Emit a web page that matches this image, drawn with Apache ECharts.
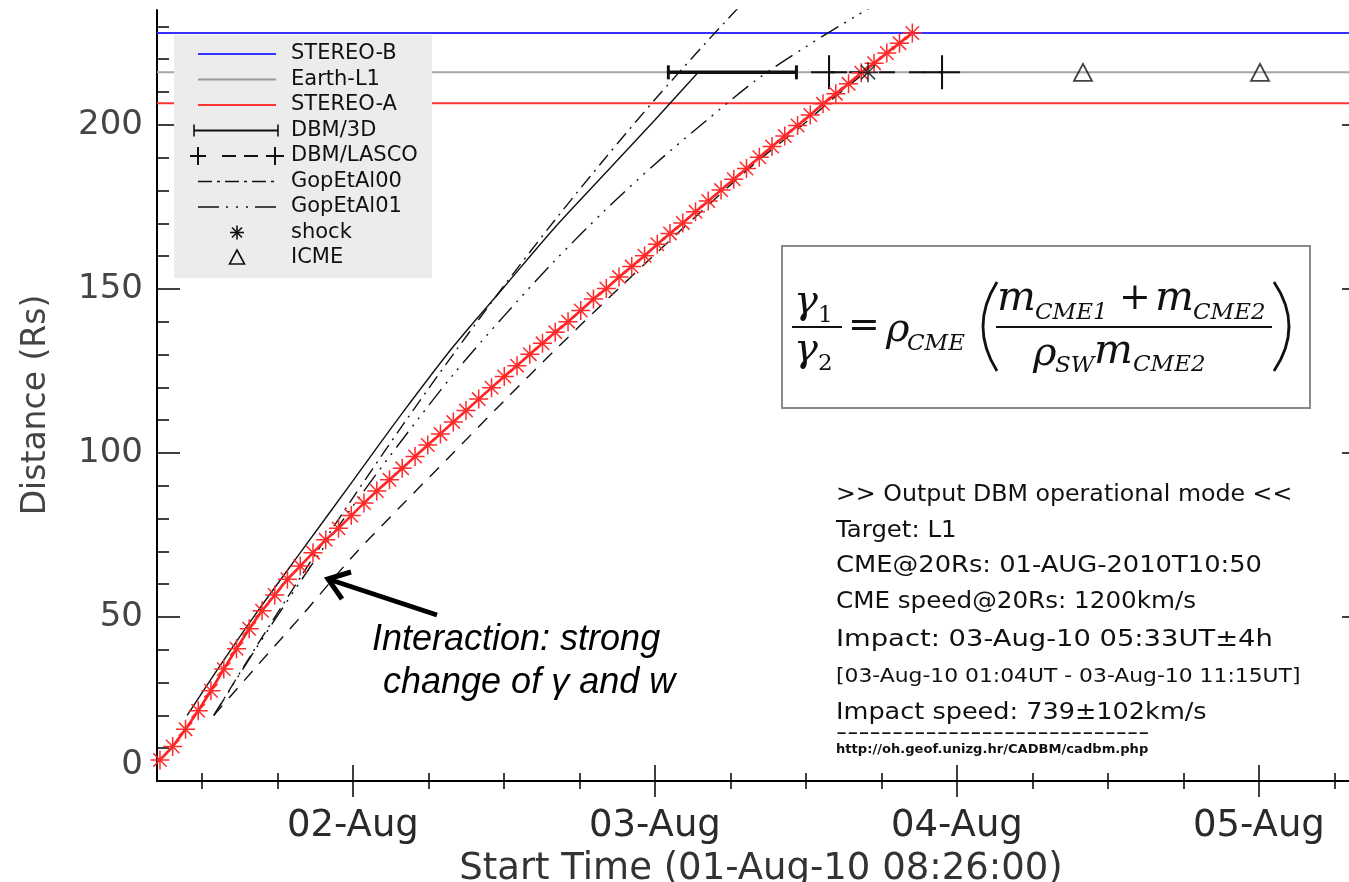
<!DOCTYPE html>
<html>
<head>
<meta charset="utf-8">
<script src="https://cdn.jsdelivr.net/npm/echarts@6/dist/echarts.min.js"></script>
<style>
  html, body { margin: 0; padding: 0; background: #ffffff; }
  #chart { width: 1349px; height: 882px; }
</style>
</head>
<body>
<div id="chart"></div>
<script>
// Time is measured in hours since 2010-08-01 00:00 UT
const START_HOUR = 8 + 26 / 60;          // 01-Aug-10 08:26:00
const END_HOUR = START_HOUR + 96;
const dayTicks = [24, 48, 72, 96];
const dayLabels = ['02-Aug', '03-Aug', '04-Aug', '05-Aug'];
const sixHourTicks = [12, 18, 30, 36, 42, 54, 60, 66, 78, 84, 90, 102];
const distTicks = [0, 50, 100, 150, 200];
const distMinorTicks = [10, 20, 30, 40, 60, 70, 80, 90, 110, 120, 130, 140, 160, 170, 180, 190, 210, 220, 230];
const DIST_MAX = 235;

// Heliocentric distances of the targets (Rs)
const stereoB = 228;
const earthL1 = 216;
const stereoA = 206.6;

// DBM with 3D reconstruction input
const dbm3dTime = [10.83, 13.5, 16.2, 20, 24, 28, 32, 36, 40, 44, 48, 51.45];
const dbm3dDist = [20, 35.5, 50.5, 70.5, 91.5, 112.5, 132.5, 150.5, 168.5, 185, 201.5, 216];

// DBM with LASCO input
const lascoTime = [12.95, 16, 20, 24, 28, 32, 36, 40, 44, 48, 52, 56, 60, 62, 64.7];
const lascoDist = [20, 33.4, 50.7, 68.5, 84.5, 100.1, 115.8, 131.1, 146, 160.5, 174.7, 188.4, 200.8, 207.5, 216];

// Empirical models
const gop00Time = [12.95, 16, 20, 24, 28, 32, 36, 40, 44, 48, 52, 55];
const gop00Dist = [20, 39, 63.1, 86.3, 108.7, 130.2, 150.9, 170.7, 189.6, 207.7, 224.8, 237.2];
const gop01Time = [12.95, 16, 20, 24, 28, 32, 36, 40, 44, 48, 52, 56, 60, 64, 65.5];
const gop01Dist = [20, 38.6, 61.8, 83.8, 104.4, 124, 141.7, 158.4, 173.8, 188, 201, 213.5, 223.8, 233.2, 236.5];

// DBM run with CME-CME interaction (hourly output)
const interTime = [8.67, 9.68, 10.70, 11.71, 12.72, 13.74, 14.75, 15.76, 16.78, 17.79,
  18.80, 19.82, 20.83, 21.84, 22.86, 23.87, 24.88, 25.90, 26.91, 27.92,
  28.94, 29.95, 30.96, 31.98, 32.99, 34.00, 35.02, 36.03, 37.04, 38.06,
  39.07, 40.08, 41.10, 42.11, 43.12, 44.14, 45.15, 46.16, 47.18, 48.19,
  49.20, 50.22, 51.23, 52.24, 53.26, 54.27, 55.28, 56.30, 57.31, 58.32,
  59.34, 60.35, 61.36, 62.38, 63.39, 64.40, 65.42, 66.43, 67.44, 68.46];
const interDist = [6.4, 10.5, 15.8, 21.4, 27.5, 34.1, 40.3, 46.4, 51.9, 56.7,
  61.5, 65.5, 69.6, 73.5, 77.0, 80.9, 84.7, 88.4, 91.8, 95.3,
  98.9, 102.4, 105.8, 109.4, 112.9, 116.4, 119.9, 123.3, 126.6, 130.1,
  133.4, 136.8, 140.0, 143.4, 146.9, 150.1, 153.6, 156.8, 160.1, 163.6,
  166.9, 170.1, 173.5, 176.8, 180.1, 183.4, 186.7, 190.1, 193.4, 196.6,
  199.8, 203.0, 206.4, 209.5, 212.5, 215.9, 218.8, 221.9, 224.9, 228.0];

// Arrival times at L1
const dbm3dArrival = [49.07, 59.25];     // 03-Aug 01:04 UT - 11:15 UT
const lascoArrival = [61.84, 70.82];
const shockTime = [64.94];
const icmeTime = [82.02, 96.09];

const pairs = (ts, ds) => ts.map((t, i) => [t, ds[i]]);
const flat = (ts, d) => ts.map(t => [t, d]);

const ASTERISK = 'path://M0,-10L0,10M-10,0L10,0M-7.07,-7.07L7.07,7.07M-7.07,7.07L7.07,-7.07';
const PLUS = 'path://M-10,0L10,0M0,-10L0,10';
const TRIANGLE = 'path://M0,-10L8.66,5L-8.66,5Z';

const SANS = "'DejaVu Sans', 'Liberation Sans', sans-serif";
const SERIF = "'DejaVu Serif', 'Liberation Serif', serif";

function xAxisDef(position, ticks, len, labels) {
  return {
    type: 'value', min: START_HOUR, max: END_HOUR, position: position,
    axisLine: { show: !!labels || position === 'top', lineStyle: { color: '#000', width: 2 } },
    axisTick: { inside: true, length: len, customValues: ticks, lineStyle: { color: '#000', width: 1.5 } },
    axisLabel: labels ? {
      customValues: dayTicks,
      formatter: v => dayLabels[dayTicks.indexOf(Math.round(v))] || '',
      margin: 27, fontSize: 37, fontFamily: SANS, color: '#2a2a2a'
    } : { show: false },
    splitLine: { show: false },
    name: labels ? 'Start Time (01-Aug-10 08:26:00)' : '',
    nameLocation: 'middle', nameGap: 70,
    nameTextStyle: { fontSize: 37, fontFamily: SANS, color: '#333' }
  };
}
function yAxisDef(position, ticks, len, labels) {
  return {
    type: 'value', min: 0, max: DIST_MAX, position: position,
    axisLine: { show: !!labels || position === 'right', lineStyle: { color: '#000', width: 2 } },
    axisTick: { inside: true, length: len, customValues: ticks, lineStyle: { color: '#000', width: 1.5 } },
    axisLabel: labels ? {
      customValues: distTicks,
      formatter: v => (v === 0 ? '{z|0}' : String(v)),
      margin: 14, fontSize: 34, fontFamily: SANS, color: '#444',
      rich: { z: { fontSize: 34, fontFamily: SANS, color: '#444', padding: [0, 0, 32, 0] } }
    } : { show: false },
    splitLine: { show: false }
  };
}

const series = [
  { name: 'STEREO-B', type: 'line', data: flat([START_HOUR, END_HOUR], stereoB), symbol: 'none',
    lineStyle: { color: '#3333ff', width: 2 }, z: 1 },
  { name: 'Earth-L1', type: 'line', data: flat([START_HOUR, END_HOUR], earthL1), symbol: 'none',
    lineStyle: { color: '#a6a6a6', width: 2 }, z: 1 },
  { name: 'STEREO-A', type: 'line', data: flat([START_HOUR, END_HOUR], stereoA), symbol: 'none',
    lineStyle: { color: '#ff3333', width: 2 }, z: 1 },
  { name: 'DBM/3D', type: 'line', data: pairs(dbm3dTime, dbm3dDist), smooth: 0.3, symbol: 'none',
    lineStyle: { color: '#111', width: 1.4 }, z: 3 },
  { name: 'DBM/3D arrival', type: 'line', data: flat(dbm3dArrival, earthL1), symbol: 'rect', symbolSize: [3, 14],
    itemStyle: { color: '#111' }, lineStyle: { color: '#111', width: 3.5 }, z: 4 },
  { name: 'DBM/LASCO', type: 'line', data: pairs(lascoTime, lascoDist), smooth: 0.3, symbol: 'none',
    lineStyle: { color: '#111', width: 1.4, type: [13, 10] }, z: 3 },
  { name: 'DBM/LASCO arrival', type: 'line', data: flat(lascoArrival, earthL1), symbol: PLUS, symbolSize: [36, 34],
    itemStyle: { color: '#111', borderColor: '#111', borderWidth: 2 },
    lineStyle: { color: '#111', width: 2, type: [16, 14], dashOffset: -20 }, z: 4 },
  { name: 'GopEtAl00', type: 'line', data: pairs(gop00Time, gop00Dist), smooth: 0.3, symbol: 'none',
    lineStyle: { color: '#111', width: 1.4, type: [14, 6, 2, 6] }, z: 3 },
  { name: 'GopEtAl01', type: 'line', data: pairs(gop01Time, gop01Dist), smooth: 0.3, symbol: 'none',
    lineStyle: { color: '#111', width: 1.4, type: [20, 7, 2, 7, 2, 7, 2, 7] }, z: 3 },
  { name: 'DBM interaction', type: 'line', data: pairs(interTime, interDist), symbol: ASTERISK, symbolSize: 19,
    itemStyle: { color: '#ff1f1f', borderColor: '#ff2a2a', borderWidth: 1.5 },
    lineStyle: { color: '#ff1f1f', width: 2.6 }, z: 5 },
  { name: 'shock', type: 'scatter', data: flat(shockTime, earthL1), symbol: ASTERISK, symbolSize: 20,
    itemStyle: { color: '#111', borderColor: '#111', borderWidth: 1.6 }, z: 6 },
  { name: 'ICME', type: 'scatter', data: flat(icmeTime, earthL1), symbol: TRIANGLE, symbolSize: [18, 17],
    itemStyle: { color: 'rgba(0,0,0,0)', borderColor: '#111', borderWidth: 1.8 }, z: 6 }
];

// ---- helpers for the overlay drawing ----
const seg = (x1, y1, x2, y2, width, dash) => ({
  type: 'line', shape: { x1: x1, y1: y1, x2: x2, y2: y2 },
  style: { stroke: '#111', lineWidth: width, lineDash: dash || null }, z: 101
});
const label = (txt, x, y, size, opts) => Object.assign({
  type: 'text', x: x, y: y, z: 101,
  style: Object.assign({ text: txt, fontSize: size, fontFamily: SANS, fill: '#111',
    verticalAlign: 'middle', align: 'left' }, (opts && opts.style) || {})
}, (opts && opts.el) || {});

// ---- axis title (vertical) ----
const titleEls = [
  label('Distance (Rs)', 36, 405, 33, { el: { rotation: Math.PI / 2 },
    style: { align: 'center', fill: '#444' } })
];

// ---- legend panel ----
const LG = { x: 174, y: 35, w: 258, h: 243, lx0: 198, lx1: 276, tx: 291, row0: 54, dy: 25.5 };
const legendItems = ['STEREO-B', 'Earth-L1', 'STEREO-A', 'DBM/3D', 'DBM/LASCO', 'GopEtAl00', 'GopEtAl01', 'shock', 'ICME'];
const legendEls = [
  { type: 'rect', shape: { x: LG.x, y: LG.y, width: LG.w, height: LG.h }, style: { fill: '#ececec' }, z: 100 }
];
const rowY = i => LG.row0 + i * LG.dy;
const lgLine = (i, stroke, width, dash) => {
  const s = seg(LG.lx0, rowY(i), LG.lx1, rowY(i), width, dash);
  s.style.stroke = stroke;
  return s;
};
legendEls.push(lgLine(0, '#3333ff', 2));
legendEls.push(lgLine(1, '#999999', 2));
legendEls.push(lgLine(2, '#ff3333', 2));
legendEls.push(seg(194, rowY(3), 278, rowY(3), 2));
legendEls.push(seg(194, rowY(3) - 6, 194, rowY(3) + 6, 1.6));
legendEls.push(seg(278, rowY(3) - 6, 278, rowY(3) + 6, 1.6));
// DBM/LASCO sample: plus caps joined by dashes
[[190, 206], [266, 284], [222, 236], [244, 258]].forEach(s => legendEls.push(seg(s[0], rowY(4), s[1], rowY(4), 2)));
[198, 275].forEach(px => legendEls.push(seg(px, rowY(4) - 9, px, rowY(4) + 9, 2)));
legendEls.push(lgLine(5, '#111', 1.6, [14, 5, 3, 5]));
legendEls.push(lgLine(6, '#111', 1.6, [21, 7, 2, 8, 2, 8, 2, 7]));
// shock asterisk sample
const ay = rowY(7), ax = 237;
legendEls.push(seg(ax, ay - 7, ax, ay + 7, 1.6));
legendEls.push(seg(ax - 7, ay, ax + 7, ay, 1.6));
legendEls.push(seg(ax - 5, ay - 5, ax + 5, ay + 5, 1.6));
legendEls.push(seg(ax - 5, ay + 5, ax + 5, ay - 5, 1.6));
// ICME triangle sample
legendEls.push({ type: 'polygon', shape: { points: [[237, rowY(8) - 8], [244.5, rowY(8) + 6], [229.5, rowY(8) + 6]] },
  style: { stroke: '#111', lineWidth: 1.6, fill: 'rgba(0,0,0,0)' }, z: 101 });
legendItems.forEach((name, i) => legendEls.push(label(name, LG.tx, rowY(i), 21)));

// ---- equation box ----
const eqEls = [
  { type: 'rect', shape: { x: 782, y: 246, width: 528, height: 162 }, style: { fill: '#fff', stroke: '#8a8a8a', lineWidth: 2 }, z: 100 }
];
const eqText = (txt, x, y, size, italic) => label(txt, x, y, size,
  { style: { fontFamily: SERIF, fontStyle: italic ? 'italic' : 'normal' } });
const paren = (xEnd, xMid) => ({
  type: 'bezierCurve', z: 101,
  shape: { x1: xEnd, y1: 282, x2: xEnd, y2: 371, cpx1: 2 * xMid - xEnd, cpy1: 326.5 },
  style: { stroke: '#111', lineWidth: 2.8, fill: null }
});
eqEls.push(eqText('γ', 794, 303, 40, true));
eqEls.push(eqText('1', 818, 316, 23, false));
eqEls.push(seg(792, 327, 842, 327, 2));
eqEls.push(eqText('γ', 794, 351, 40, true));
eqEls.push(eqText('2', 818, 364, 23, false));
eqEls.push(eqText('=', 848, 327, 38, false));
eqEls.push(eqText('ρ', 886, 331, 40, true));
eqEls.push(eqText('CME', 907, 344, 23, true));
eqEls.push(paren(997, 983));
eqEls.push(eqText('m', 997, 299, 41, true));
eqEls.push(eqText('CME1', 1035, 313, 23, true));
eqEls.push(eqText('+', 1119, 299, 38, false));
eqEls.push(eqText('m', 1155, 299, 41, true));
eqEls.push(eqText('CME2', 1193, 313, 23, true));
eqEls.push(seg(996, 327, 1272, 327, 2));
eqEls.push(eqText('ρ', 1033, 355, 40, true));
eqEls.push(eqText('SW', 1055, 366, 23, true));
eqEls.push(eqText('m', 1094, 352, 41, true));
eqEls.push(eqText('CME2', 1133, 365, 23, true));
eqEls.push(paren(1274, 1289));

// ---- DBM output summary (text, centre y, font size, horizontal stretch) ----
const summaryLines = [
  ['>> Output DBM operational mode <<', 495, 23, 1.03],
  ['Target: L1', 531, 23, 1.06],
  ['CME@20Rs: 01-AUG-2010T10:50', 566, 23, 1.12],
  ['CME speed@20Rs: 1200km/s', 602, 23, 1.07],
  ['Impact: 03-Aug-10 05:33UT±4h', 640, 23, 1.19],
  ['[03-Aug-10 01:04UT - 03-Aug-10 11:15UT]', 677, 19, 1.15],
  ['Impact speed: 739±102km/s', 713, 23, 1.11],
  ['----------------------------', 733, 22, 1.41],
  ['http://oh.geof.unizg.hr/CADBM/cadbm.php', 750, 12, 1.09]
];
const summaryEls = summaryLines.map(l => label(l[0], 836, l[1], l[2], {
  el: { scaleX: l[3] },
  style: { fontWeight: l[2] === 12 ? 'bold' : 'normal' }
}));

// ---- annotation ----
const NOTE_FONT = "'Liberation Sans', Arial, sans-serif";
const noteEls = [
  label('Interaction: strong', 372, 640, 36, { style: { fontStyle: 'italic', fontFamily: NOTE_FONT, fill: '#000' } }),
  label('change of γ and w', 383, 683, 36, { style: { fontStyle: 'italic', fontFamily: NOTE_FONT, fill: '#000' } }),
  { type: 'line', shape: { x1: 437, y1: 615, x2: 331, y2: 580 }, style: { stroke: '#000', lineWidth: 5 }, z: 101 },
  { type: 'polyline', shape: { points: [[342, 599], [328, 579], [351, 572]] },
    style: { stroke: '#000', lineWidth: 5, fill: 'rgba(0,0,0,0)', lineJoin: 'miter' }, z: 101 }
];

const option = {
  animation: false,
  backgroundColor: '#ffffff',
  // the plot frame runs past the right edge of the canvas, so keep the grid exactly as given
  grid: { left: 157, top: 10, width: 1208, height: 771, containLabel: false, outerBoundsMode: 'none' },
  xAxis: [
    xAxisDef('bottom', dayTicks, 16, true),
    xAxisDef('bottom', sixHourTicks, 8, false),
    xAxisDef('top', dayTicks, 16, false),
    xAxisDef('top', sixHourTicks, 8, false)
  ],
  yAxis: [
    yAxisDef('left', distTicks, 23, true),
    yAxisDef('left', distMinorTicks, 12, false),
    yAxisDef('right', distTicks, 23, false),
    yAxisDef('right', distMinorTicks, 12, false)
  ],
  series: series,
  graphic: { elements: titleEls.concat(legendEls, eqEls, summaryEls, noteEls) }
};

const chart = echarts.init(document.getElementById('chart'), null, { renderer: 'canvas' });
chart.setOption(option);
</script>
</body>
</html>
